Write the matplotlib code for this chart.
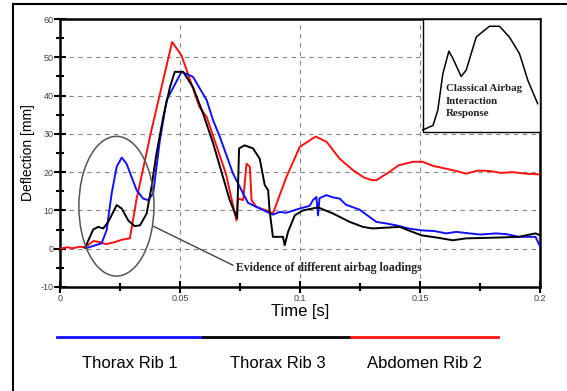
import matplotlib
matplotlib.use('Agg')
import matplotlib.pyplot as plt
from matplotlib.lines import Line2D
from matplotlib.patches import Ellipse, Rectangle
import matplotlib.ticker as mticker

plt.rcParams['font.family'] = ['Liberation Sans', 'DejaVu Sans']
plt.rcParams['axes.unicode_minus'] = False

# Thorax Rib 1 (blue)
rib1_t = [0.0, 0.011, 0.0172, 0.0193, 0.0214, 0.0235, 0.0256, 0.0276, 0.0318, 0.0345,
          0.0366, 0.0387, 0.0415, 0.0443, 0.0505, 0.0553, 0.061, 0.0637, 0.0665, 0.072,
          0.0762, 0.0782, 0.0831, 0.0886, 0.0914, 0.0942, 0.0998, 0.1039, 0.1053, 0.1067,
          0.1074, 0.1080, 0.1109, 0.1136, 0.1164, 0.119, 0.1247, 0.1317, 0.1358, 0.14,
          0.1450, 0.1504, 0.1560, 0.1608, 0.165, 0.169, 0.175, 0.1816, 0.186, 0.191,
          0.198, 0.2]
rib1_y = [None, 0.2, 1.4, 4.8, 14.4, 21.4, 23.8, 22.2, 15.3, 13.1,
          12.7, 14.4, 28.3, 38.8, 46.2, 44.9, 38.8, 33.5, 29.2, 19.6,
          14.4, 12.0, 10.5, 8.9, 9.6, 9.4, 10.5, 11.2, 12.7, 13.5,
          8.7, 13.2, 14.0, 13.4, 13.1, 11.5, 10.2, 7.0, 6.6, 6.1,
          5.3, 4.8, 4.6, 4.0, 4.4, 4.1, 3.7, 4.0, 3.8, 3.1,
          3.1, 0.5]

# Thorax Rib 3 (black)
rib3_t = [0.0, 0.0103, 0.0137, 0.0158, 0.0179, 0.02, 0.0235, 0.0256, 0.0283, 0.031,
          0.0332, 0.036, 0.038, 0.0401, 0.0429, 0.0457, 0.0477, 0.0512, 0.0553, 0.0595,
          0.0637, 0.0678, 0.0706, 0.0737, 0.0745, 0.0768, 0.0803, 0.0831, 0.0852, 0.0866,
          0.0872, 0.0886, 0.0928, 0.0935, 0.0949, 0.0977, 0.1011, 0.1074, 0.1136, 0.1206,
          0.1261, 0.130, 0.1414, 0.1504, 0.1570, 0.1636, 0.169, 0.1816, 0.191, 0.198, 0.2]
rib3_y = [None, 0.2, 5.0, 5.7, 5.3, 7.0, 11.4, 10.5, 7.4, 5.9,
          6.1, 9.2, 16.1, 24.9, 34.4, 42.2, 46.2, 46.2, 42.2, 35.3,
          27.5, 18.7, 12.7, 7.9, 26.2, 27.0, 26.2, 23.5, 16.6, 15.3,
          10.0, 3.1, 3.1, 0.9, 4.4, 8.7, 10.0, 10.8, 9.2, 7.0,
          5.7, 5.3, 5.7, 3.5, 2.9, 2.2, 2.7, 2.9, 3.1, 4.0, 3.5]

# Abdomen Rib 2 (red)
rib2_t = [0.0, 0.003, 0.005, 0.008, 0.0103, 0.0138, 0.016, 0.019, 0.022, 0.026,
          0.029, 0.0318, 0.038, 0.0466, 0.0505, 0.058, 0.061, 0.069, 0.0734, 0.074,
          0.0762, 0.0776, 0.079, 0.0797, 0.0817, 0.0859, 0.0886, 0.0942, 0.0998, 0.1064,
          0.111, 0.1164, 0.122, 0.1265, 0.130, 0.1317, 0.137, 0.141, 0.1469, 0.151,
          0.1555, 0.1608, 0.165, 0.169, 0.174, 0.179, 0.1835, 0.1885, 0.194, 0.2]
rib2_y = [0.0, 0.4, 0.1, 0.5, 0.4, 2.0, 1.8, 1.2, 1.6, 2.4,
          2.7, 13.0, 31.0, 54.0, 50.5, 37.0, 34.4, 19.6, 7.4, 13.1,
          12.7, 22.2, 21.4, 12.7, 10.9, 10.0, 9.2, 18.7, 26.6, 29.3,
          27.9, 23.5, 20.5, 18.6, 17.9, 17.9, 20.0, 21.8, 22.7, 22.7,
          21.6, 20.9, 20.3, 19.6, 20.4, 20.3, 19.8, 20.0, 19.6, 19.4]

# Inset: classical airbag interaction response
inset_t = [0.151, 0.1553, 0.1573, 0.1594, 0.1619, 0.1636, 0.167, 0.1691, 0.1733,
           0.1788, 0.183, 0.1871, 0.1913, 0.1948, 0.1989]
inset_y = [31.0, 32.2, 36.2, 45.7, 51.6, 49.7, 45.0, 46.6, 55.3,
           58.1, 58.1, 55.3, 51.0, 44.0, 37.9]

series_labels = ['Thorax Rib 1', 'Thorax Rib 3', 'Abdomen Rib 2']
series_colors = ['#1010ff', 'black', '#ff1010']


def _drop_none(t, y):
    pairs = [(a, b) for a, b in zip(t, y) if b is not None]
    return [p[0] for p in pairs], [p[1] for p in pairs]


fig = plt.figure(figsize=(5.67, 3.91), dpi=100)
ax = fig.add_axes([0.1063, 0.266, 0.8466, 0.6854])

for t, y, color in [(rib2_t, rib2_y, series_colors[2]),
                    (rib1_t, rib1_y, series_colors[0]),
                    (rib3_t, rib3_y, series_colors[1])]:
    tt, yy = _drop_none(t, y)
    ax.plot(tt, yy, color=color, linewidth=1.4, zorder=3)

ax.set_xlim(0, 0.2)
ax.set_ylim(-10, 60)
ax.xaxis.set_major_locator(mticker.MultipleLocator(0.05))
ax.xaxis.set_minor_locator(mticker.MultipleLocator(0.025))
ax.yaxis.set_major_locator(mticker.MultipleLocator(10))
ax.yaxis.set_minor_locator(mticker.MultipleLocator(5))
ax.xaxis.set_major_formatter(mticker.FuncFormatter(lambda v, p: f'{v:g}'))
ax.tick_params(which='major', direction='inout', length=8, width=1.5,
               labelsize=6.5, labelcolor='#444444', pad=1)
ax.tick_params(which='minor', direction='inout', length=6, width=1.5)
ax.grid(True, which='major', linestyle=(0, (4, 4)), color='#888888', linewidth=0.8)
for s in ax.spines.values():
    s.set_linewidth(1.8)

ax.set_xlabel('Time [s]', fontsize=12, labelpad=1)
ax.set_ylabel('Deflection [mm]', fontsize=10, labelpad=4)

# inset box
ax.add_patch(Rectangle((0.151, 30.5), 0.049, 29.5, facecolor='white',
                       edgecolor='black', linewidth=1.0, zorder=4))
ax.plot(inset_t, inset_y, color='black', linewidth=1.1, zorder=5)
ax.text(0.1606, 42.9, 'Classical Airbag\nInteraction\nResponse', family='Liberation Serif',
        fontweight='bold', fontsize=7.8, va='top', ha='left', linespacing=1.45,
        color='#222222', zorder=6)

# highlighted early loading
ax.add_patch(Ellipse((0.0234, 11.1), 0.0313, 36.5, fill=False,
                     edgecolor='#555555', linewidth=1.1, zorder=4))
ax.plot([0.039, 0.0719], [5.8, -4.3], color='#444444', linewidth=1.0, zorder=4)
ax.text(0.0731, -5.1, 'Evidence of different airbag loadings', family='Liberation Serif',
        fontweight='bold', fontsize=8.5, va='center', ha='left', color='#222222', zorder=6)

# legend bar below the axes
edges = [0.1005, 0.358, 0.619, 0.878]
centers = [0.229, 0.490, 0.748]
for i, (label, color) in enumerate(zip(series_labels, series_colors)):
    fig.add_artist(Line2D([edges[i], edges[i + 1]], [0.139, 0.139], color=color,
                          linewidth=2.0, transform=fig.transFigure))
    fig.text(centers[i], 0.0716, label, fontsize=12, ha='center', va='center')

# outer frame
fig.add_artist(Line2D([0.023, 1.0], [0.99, 0.99], color='black', linewidth=1.5,
                      transform=fig.transFigure))
fig.add_artist(Line2D([0.023, 0.023], [0.0, 0.99], color='black', linewidth=1.5,
                      transform=fig.transFigure))

fig.savefig('out.png', dpi=100)
